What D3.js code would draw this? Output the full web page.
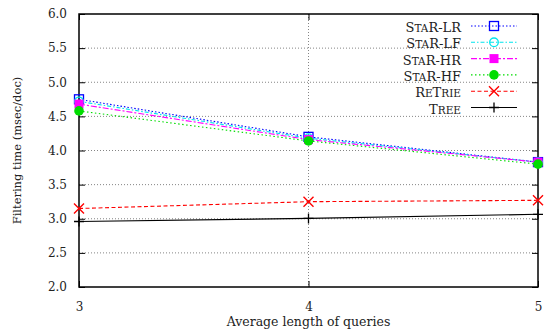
<!DOCTYPE html>
<html><head><meta charset="utf-8">
<script src="https://cdn.jsdelivr.net/npm/d3@7"></script>
<style>body{margin:0;background:#fff}text{font-family:"DejaVu Serif","Liberation Serif",serif}</style>
</head><body><svg id="c" width="552" height="331"></svg>
<script>
const xValues = [3, 4, 5];
const yTicks = [2.0, 2.5, 3.0, 3.5, 4.0, 4.5, 5.0, 5.5, 6.0];
const seriesNames = ["StaR-LR", "StaR-LF", "StaR-HR", "StaR-HF", "ReTrie", "Tree"];
const starLR = [4.75, 4.20, 3.83];
const starLF = [4.72, 4.18, 3.83];
const starHR = [4.68, 4.16, 3.83];
const starHF = [4.58, 4.14, 3.80];
const retrie = [3.15, 3.25, 3.27];
const tree = [2.96, 3.005, 3.065];
const seriesValues = [starLR, starLF, starHR, starHF, retrie, tree];
const colors = ["#0000ff", "#00e5ee", "#ff00ff", "#00dd00", "#ff0000", "#000000"];
const dashes = ["1.5,2", "4,2,1.5,2", "6,2,2,2", "1.5,2.5", "4,2.5", null];
const markers = ["squareOpen", "circleOpen", "squareFill", "circleFill", "x", "plus"];

const svg = d3.select("#c");
const L = 79, R = 538, T = 14, B = 287;
const x = d3.scaleLinear().domain([3, 5]).range([L, R]);
const y = d3.scaleLinear().domain([2, 6]).range([B, T]);

// grid
const g = svg.append("g");
g.selectAll(".hg").data(yTicks.slice(1, -1)).enter().append("line")
  .attr("x1", L).attr("x2", R).attr("y1", d => y(d)).attr("y2", d => y(d))
  .attr("stroke", "#666").attr("stroke-width", 0.8).attr("stroke-dasharray", "1,2");
g.append("line").attr("x1", x(4)).attr("x2", x(4)).attr("y1", T).attr("y2", B)
  .attr("stroke", "#666").attr("stroke-width", 0.8).attr("stroke-dasharray", "1,2");

// axes
const yAxis = d3.axisLeft(y).tickValues(yTicks).tickFormat(d3.format(".1f")).tickSize(-6).tickPadding(12);
const xAxis = d3.axisBottom(x).tickValues(xValues).tickFormat(d3.format("d")).tickSize(-6).tickPadding(15);
const ya = svg.append("g").attr("transform", `translate(${L},0)`).call(yAxis);
const xa = svg.append("g").attr("transform", `translate(0,${B})`).call(xAxis);
const yr = svg.append("g").attr("transform", `translate(${R},0)`).call(d3.axisRight(y).tickValues(yTicks).tickSize(-6).tickFormat(""));
const xt = svg.append("g").attr("transform", `translate(0,${T})`).call(d3.axisTop(x).tickValues(xValues).tickSize(-6).tickFormat(""));
[ya, xa, yr, xt].forEach(a => { a.select(".domain").remove(); a.selectAll("line").attr("stroke", "#000"); a.selectAll("text").attr("font-size", 12).attr("fill", "#222").style("font-family", "DejaVu Serif"); });
svg.append("rect").attr("x", L).attr("y", T).attr("width", R - L).attr("height", B - T)
  .attr("fill", "none").attr("stroke", "#000").attr("stroke-width", 1.5);

function drawMarker(sel, type, cx, cy, color) {
  if (type === "squareOpen") sel.append("rect").attr("x", cx - 4.5).attr("y", cy - 4.5).attr("width", 9).attr("height", 9).attr("fill", "none").attr("stroke", color).attr("stroke-width", 1.3);
  else if (type === "squareFill") sel.append("rect").attr("x", cx - 4.5).attr("y", cy - 4.5).attr("width", 9).attr("height", 9).attr("fill", color);
  else if (type === "circleOpen") sel.append("circle").attr("cx", cx).attr("cy", cy).attr("r", 4.3).attr("fill", "none").attr("stroke", color).attr("stroke-width", 1.3);
  else if (type === "circleFill") sel.append("circle").attr("cx", cx).attr("cy", cy).attr("r", 4.8).attr("fill", color);
  else if (type === "x") sel.append("path").attr("d", `M${cx-5},${cy-5}L${cx+5},${cy+5}M${cx-5},${cy+5}L${cx+5},${cy-5}`).attr("stroke", color).attr("stroke-width", 1.4);
  else if (type === "plus") sel.append("path").attr("d", `M${cx-5},${cy}L${cx+5},${cy}M${cx},${cy-5}L${cx},${cy+5}`).attr("stroke", color).attr("stroke-width", 1.3);
}

const line = d3.line().x((d, i) => x(xValues[i])).y(d => y(d));
seriesValues.forEach((vals, k) => {
  const s = svg.append("g");
  s.append("path").attr("d", line(vals)).attr("fill", "none").attr("stroke", colors[k])
    .attr("stroke-width", 1.1).attr("stroke-dasharray", dashes[k]);
  vals.forEach((v, i) => drawMarker(s, markers[k], x(xValues[i]), y(v), colors[k]));
});

// legend (small caps drawn with tspans)
const lg = svg.append("g");
seriesNames.forEach((n, k) => {
  const ly = 26 + k * 16.3;
  const t = lg.append("text").attr("x", 461).attr("y", ly).attr("dy", "0.38em").attr("text-anchor", "end")
    .attr("fill", "#222").style("font-family", "DejaVu Serif");
  const runs = n.match(/[a-z]+|[^a-z]+/g);
  runs.forEach(r => {
    const lower = /[a-z]/.test(r[0]);
    t.append("tspan").attr("font-size", lower ? 10.5 : 13).text(lower ? r.toUpperCase() : r);
  });
  lg.append("line").attr("x1", 471).attr("x2", 517).attr("y1", ly).attr("y2", ly)
    .attr("stroke", colors[k]).attr("stroke-width", 1.1).attr("stroke-dasharray", dashes[k]);
  drawMarker(lg, markers[k], 494, ly, colors[k]);
});

svg.append("text").attr("transform", `translate(17,${(T + B) / 2}) rotate(-90)`).attr("text-anchor", "middle")
  .attr("dy", "0.35em").attr("font-size", 11.5).attr("fill", "#222").text("Filtering time (msec/doc)");
svg.append("text").attr("x", (L + R) / 2).attr("y", 326).attr("text-anchor", "middle")
  .attr("font-size", 12.5).attr("fill", "#222").text("Average length of queries");
</script></body></html>
